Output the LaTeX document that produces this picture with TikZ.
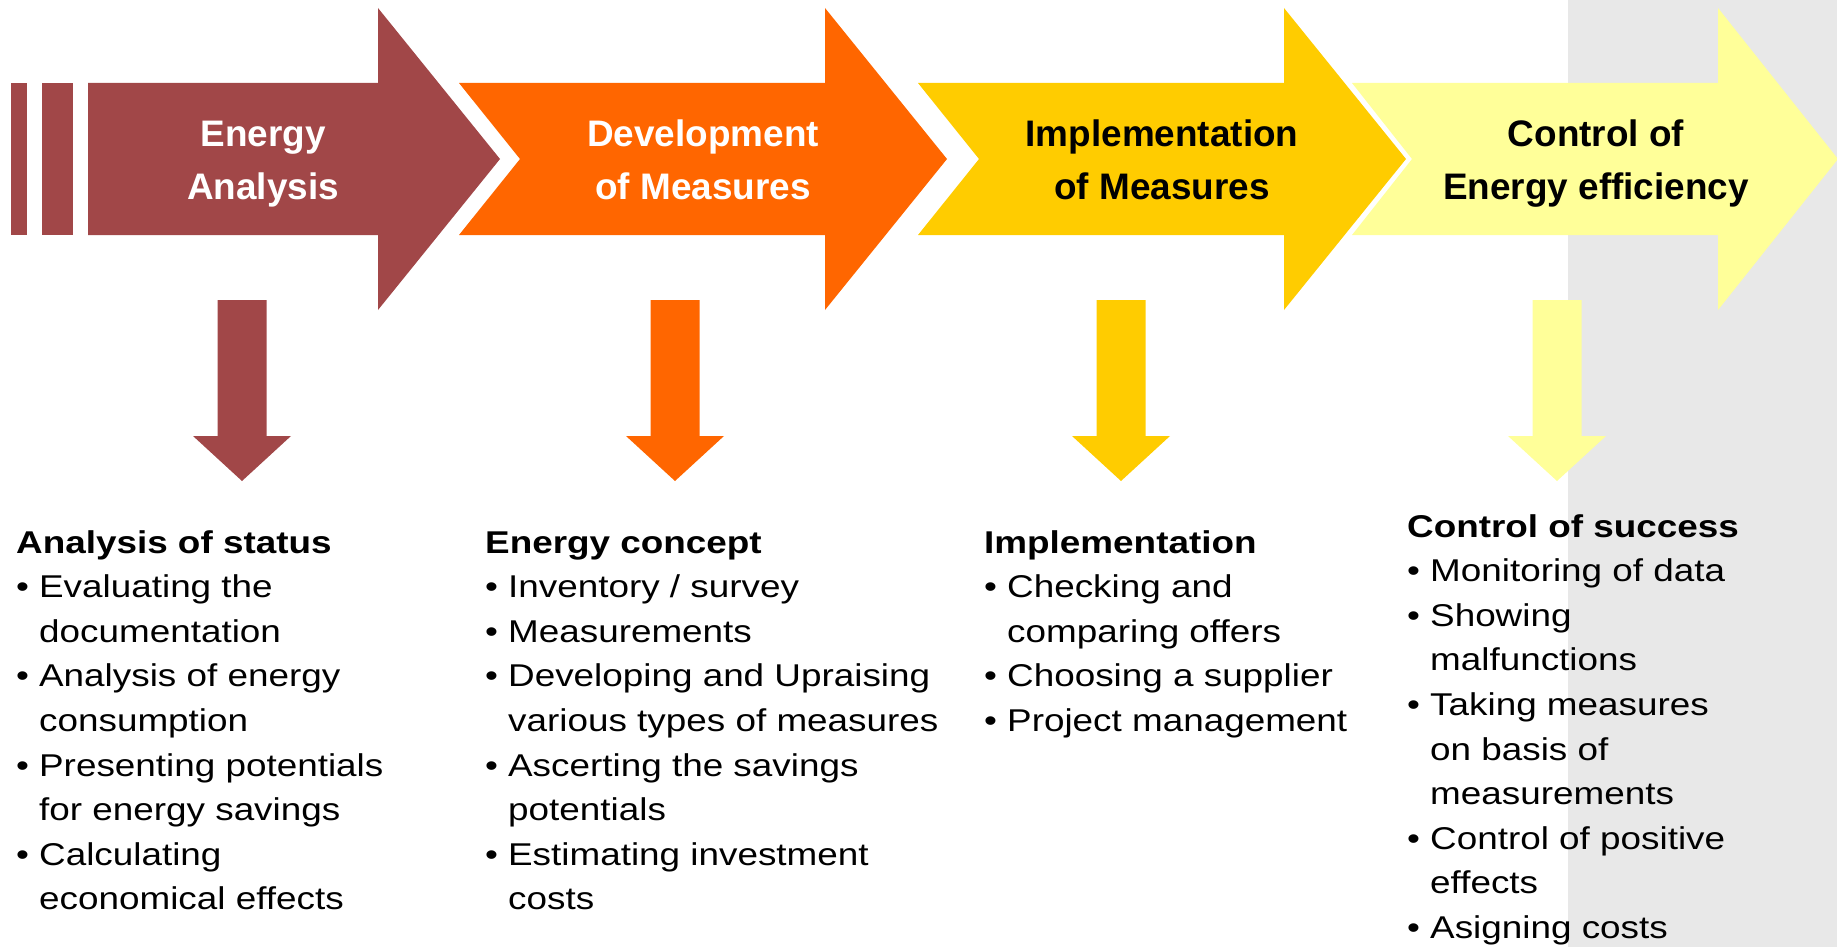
\documentclass[tikz,border=0pt]{standalone}
\usepackage{fontspec}
\setmainfont{Liberation Sans}
\newfontfamily\bodyfont[FakeStretch=1.17]{Liberation Sans}
\definecolor{cRed}{RGB}{161,71,72}
\definecolor{cOrange}{RGB}{255,102,0}
\definecolor{cYellow}{RGB}{255,204,0}
\definecolor{cLight}{RGB}{255,255,153}
\definecolor{cGray}{RGB}{232,232,232}
\newcommand{\bl}{\makebox[23pt][l]{\textbullet}}
\newcommand{\ct}{\hspace*{23pt}}
\begin{document}
\begin{tikzpicture}[x=1pt,y=-1pt,
  titletext/.style={font=\fontsize{36.9}{54}\selectfont\bfseries, align=center, inner sep=0pt, anchor=base},
  colbox/.style={font=\bodyfont\fontsize{31.5}{44.6}\selectfont, align=left, inner sep=0pt, anchor=base west},
  bigarrow/.style={fill=#1, draw=none}]
\useasboundingbox (0,0) rectangle (1837,947);
\fill[cGray] (1568,0) rectangle (1837,947);

% process arrows
\fill[cRed] (11,83) rectangle (27,235);
\fill[cRed] (42,83) rectangle (73,235);
\fill[bigarrow=cRed] (88,83) -- (378,83) -- (378,8) -- (500,159) -- (378,310) -- (378,235) -- (88,235) -- cycle;
\fill[bigarrow=cOrange] (459,83) -- (825,83) -- (825,8) -- (947,159) -- (825,310) -- (825,235) -- (459,235) -- (520,159) -- cycle;
\fill[bigarrow=cYellow] (918,83) -- (1284,83) -- (1284,8) -- (1406,159) -- (1284,310) -- (1284,235) -- (918,235) -- (979,159) -- cycle;
\fill[bigarrow=cLight] (1352,83) -- (1718,83) -- (1718,8) -- (1838,159) -- (1718,310) -- (1718,235) -- (1352,235) -- (1412,159) -- cycle;

% titles (anchor = baseline of the last line)
\node[titletext, text=white] (t1) at (263,200) {Energy\\Analysis};
\node[titletext, text=white] (t2) at (703,200) {Development\\of Measures};
\node[titletext, text=black] (t3) at (1162,200) {Implementation\\of Measures};
\node[titletext, text=black] (t4) at (1596,200) {Control of\\Energy efficiency};

% down arrows
\foreach \n/\cx/\col in {d1/242/cRed, d2/675/cOrange, d3/1121/cYellow, d4/1557/cLight}{
  \coordinate (\n) at (\cx,300);
  \fill[\col] ([xshift=-24.5pt]\n) -- ([xshift=24.5pt]\n) -- ([xshift=24.5pt,yshift=-136pt]\n) -- ([xshift=49pt,yshift=-136pt]\n) -- ([yshift=-181pt]\n) -- ([xshift=-49pt,yshift=-136pt]\n) -- ([xshift=-24.5pt,yshift=-136pt]\n) -- cycle;
}

% columns (anchor = baseline of the last line)
\node[colbox] (c1) at (16,909.8) {\textbf{Analysis of status}\\
\bl Evaluating the\\
\ct documentation\\
\bl Analysis of energy\\
\ct consumption\\
\bl Presenting potentials\\
\ct for energy savings\\
\bl Calculating\\
\ct economical effects};

\node[colbox] (c2) at (485,909.8) {\textbf{Energy concept}\\
\bl Inventory / survey\\
\bl Measurements\\
\bl Developing and Upraising\\
\ct various types of measures\\
\bl Ascerting the savings\\
\ct potentials\\
\bl Estimating investment\\
\ct costs};

\node[colbox] (c3) at (984,731.4) {\textbf{Implementation}\\
\bl Checking and\\
\ct comparing offers\\
\bl Choosing a supplier\\
\bl Project management};

\node[colbox] (c4) at (1407,938.4) {\textbf{Control of success}\\
\bl Monitoring of data\\
\bl Showing\\
\ct malfunctions\\
\bl Taking measures\\
\ct on basis of\\
\ct measurements\\
\bl Control of positive\\
\ct effects\\
\bl Asigning costs};
\end{tikzpicture}
\end{document}
